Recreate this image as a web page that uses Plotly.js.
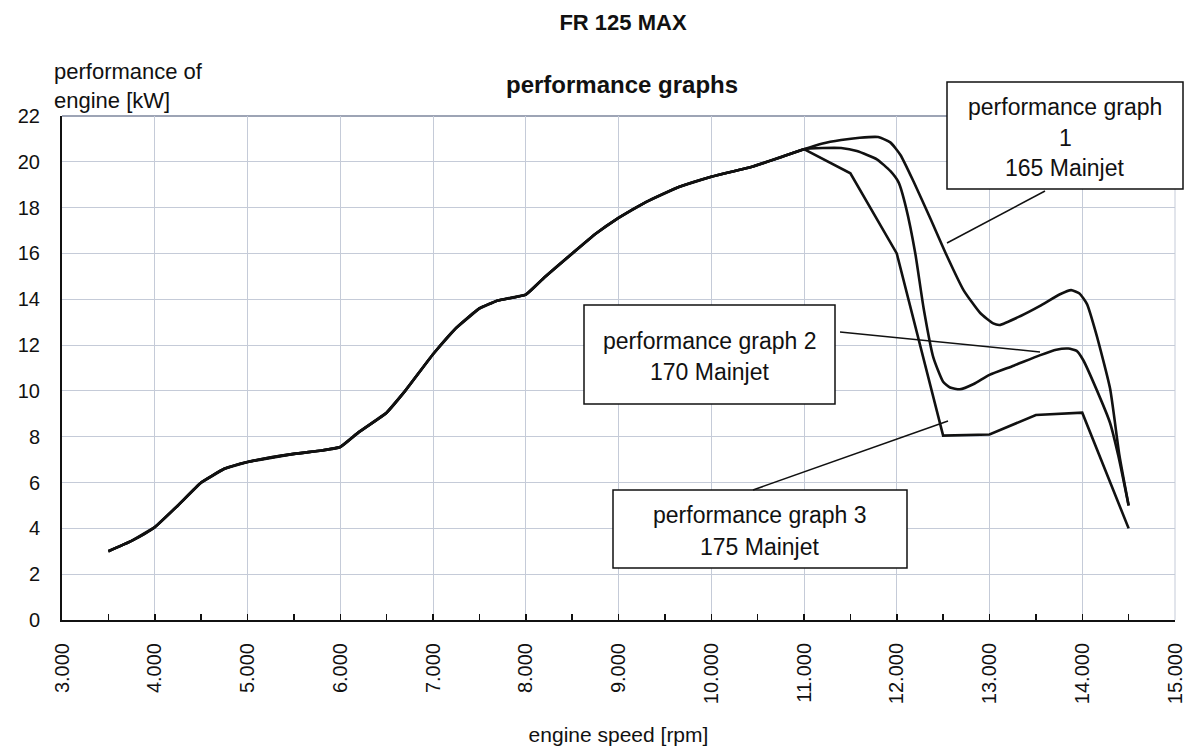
<!DOCTYPE html>
<html>
<head>
<meta charset="utf-8">
<script src="https://cdn.plot.ly/plotly-3.0.1.min.js"></script>
<style>html,body{margin:0;padding:0;background:#fff;}#chart{width:1185px;height:751px;}</style>
</head>
<body>
<div id="chart"></div>
<script>
// ---- data ----
// shared low/mid-speed part (all three jets identical)
var rpmCommon = [3500, 3750, 4000, 4250, 4500, 4750, 5000, 5500, 5800, 6000, 6200, 6500, 6700, 7000, 7250, 7500, 7700, 8000, 8200, 8500, 8750, 9000, 9300, 9650, 10000, 10450, 10750, 11000];
var kwCommon  = [3.0, 3.45, 4.05, 5.0, 6.0, 6.6, 6.9, 7.25, 7.4, 7.55, 8.2, 9.05, 10.0, 11.6, 12.75, 13.6, 13.95, 14.2, 14.95, 16.0, 16.85, 17.55, 18.25, 18.9, 19.35, 19.8, 20.2, 20.55];

// performance graph 1 – 165 Mainjet (tail after 11.000 rpm)
var rpmJet165 = [11200, 11400, 11600, 11800, 11930, 12040, 12180, 12360, 12540, 12720, 12900, 13040, 13110, 13330, 13540, 13760, 13880, 13970, 14050, 14150, 14300, 14400, 14500];
var kwJet165  = [20.8, 20.95, 21.05, 21.08, 20.85, 20.3, 19.15, 17.55, 15.9, 14.4, 13.4, 12.95, 12.88, 13.26, 13.7, 14.22, 14.4, 14.25, 13.8, 12.5, 10.1, 7.2, 5.0];

// performance graph 2 – 170 Mainjet
var rpmJet170 = [11200, 11400, 11570, 11790, 11930, 12020, 12100, 12200, 12290, 12395, 12500, 12575, 12680, 12830, 13000, 13260, 13540, 13720, 13850, 13940, 14010, 14150, 14300, 14390, 14500];
var kwJet170  = [20.6, 20.6, 20.47, 20.1, 19.6, 19.1, 18.0, 16.0, 13.6, 11.45, 10.4, 10.15, 10.07, 10.3, 10.7, 11.1, 11.55, 11.8, 11.85, 11.75, 11.35, 10.1, 8.6, 7.15, 5.0];

// performance graph 3 – 175 Mainjet
var rpmJet175 = [11500, 12000, 12500, 13000, 13500, 14000, 14500];
var kwJet175  = [19.5, 16.0, 8.05, 8.1, 8.95, 9.05, 4.0];

var xTickVals = [3000, 4000, 5000, 6000, 7000, 8000, 9000, 10000, 11000, 12000, 13000, 14000, 15000];
var xTickText = ['3.000', '4.000', '5.000', '6.000', '7.000', '8.000', '9.000', '10.000', '11.000', '12.000', '13.000', '14.000', '15.000'];

var boxLabels = [
  ['performance graph', '1', '165 Mainjet'],
  ['performance graph 2', '170 Mainjet'],
  ['performance graph 3', '175 Mainjet']
];

// ---- build ----
var FONT = 'Liberation Sans, Arial, Helvetica, sans-serif';
var INK = '#111111';
var GRID = '#c5cbd8';

function trace(xs, ys, shape) {
  return {
    x: rpmCommon.concat(xs), y: kwCommon.concat(ys),
    type: 'scatter', mode: 'lines',
    line: {color: INK, width: 2.6, shape: shape, smoothing: 0.5},
    hoverinfo: 'x+y', showlegend: false
  };
}
var data = [
  trace(rpmJet175, kwJet175, 'linear'),
  trace(rpmJet170, kwJet170, 'spline'),
  trace(rpmJet165, kwJet165, 'spline')
];

// helper: paper coordinates for the label boxes
var L = 62, W = 1113, B = 620, H = 504;
function px(x) { return (x - L) / W; }
function py(y) { return (B - y) / H; }

var shapes = [
  // right grid line at 15.000 and darker top frame line
  {type: 'line', xref: 'paper', yref: 'paper', x0: 1, x1: 1, y0: 0, y1: 1, line: {color: GRID, width: 1}, layer: 'below'},
  {type: 'line', xref: 'paper', yref: 'paper', x0: 0, x1: 1, y0: 1, y1: 1, line: {color: '#7d869c', width: 1.5}, layer: 'below'},
  // boxes
  {type: 'rect', xref: 'paper', yref: 'paper', x0: px(947), x1: px(1183), y0: py(189), y1: py(82), line: {color: INK, width: 1.5}, fillcolor: '#ffffff', layer: 'above'},
  {type: 'rect', xref: 'paper', yref: 'paper', x0: px(584), x1: px(835), y0: py(404), y1: py(305), line: {color: INK, width: 1.5}, fillcolor: '#ffffff', layer: 'above'},
  {type: 'rect', xref: 'paper', yref: 'paper', x0: px(613), x1: px(907), y0: py(568), y1: py(490), line: {color: INK, width: 1.5}, fillcolor: '#ffffff', layer: 'above'},
  // leader lines
  {type: 'line', xref: 'paper', yref: 'paper', x0: px(1045), y0: py(191), x1: px(947), y1: py(243), line: {color: INK, width: 1.5}, layer: 'above'},
  {type: 'line', xref: 'paper', yref: 'paper', x0: px(840), y0: py(332), x1: px(1040), y1: py(352), line: {color: INK, width: 1.5}, layer: 'above'},
  {type: 'line', xref: 'paper', yref: 'paper', x0: px(753), y0: py(490), x1: px(948), y1: py(421), line: {color: INK, width: 1.5}, layer: 'above'}
];

function label(text, x, y, size, extra) {
  var a = {text: text, xref: 'paper', yref: 'paper', x: px(x), y: py(y), xanchor: 'center', yanchor: 'middle',
           showarrow: false, font: {family: FONT, size: size, color: INK}};
  if (extra) for (var k in extra) a[k] = extra[k];
  return a;
}
var annotations = [
  label('<b>performance graphs</b>', 622, 84, 24),
  label('performance of<br>engine [kW]', 52, 86, 22, {xanchor: 'left', align: 'left'}),
  label(boxLabels[0][0], 1065, 107, 23),
  label(boxLabels[0][1], 1065, 138, 23),
  label(boxLabels[0][2], 1065, 168, 23),
  label(boxLabels[1][0], 710, 341, 23),
  label(boxLabels[1][1], 710, 372, 23),
  label(boxLabels[2][0], 760, 515, 23),
  label(boxLabels[2][1], 760, 547, 23)
];

var layout = {
  width: 1185, height: 751,
  margin: {l: 62, r: 10, t: 116, b: 131, pad: 0},
  paper_bgcolor: '#ffffff', plot_bgcolor: '#ffffff',
  font: {family: FONT, color: INK},
  title: {text: '<b>FR 125 MAX</b>', x: px(623), xref: 'paper', xanchor: 'center', y: 1 - 22 / 751, yref: 'container', yanchor: 'middle',
          font: {family: FONT, size: 22, color: INK}},
  showlegend: false,
  xaxis: {
    range: [3000, 15000], tickmode: 'array', tickvals: xTickVals, ticktext: xTickText,
    tickangle: -90, ticks: 'inside', ticklen: 6, tickwidth: 1.5, tickcolor: INK,
    minor: {tickmode: 'linear', tick0: 3500, dtick: 1000, ticks: 'inside', ticklen: 6, tickwidth: 1.5, tickcolor: INK, showgrid: false},
    ticklabelstandoff: 13, ticklabeloverflow: 'allow',
    tickfont: {family: FONT, size: 20, color: INK},
    showgrid: true, gridcolor: GRID, gridwidth: 1,
    showline: true, linecolor: INK, linewidth: 2, zeroline: false,
    title: {text: 'engine speed [rpm]', font: {family: FONT, size: 21, color: INK}, standoff: 24},
    fixedrange: true
  },
  yaxis: {
    range: [0, 22], tickmode: 'linear', tick0: 0, dtick: 2,
    ticks: '', ticklabelstandoff: 16,
    tickfont: {family: FONT, size: 20, color: INK},
    showgrid: true, gridcolor: GRID, gridwidth: 1,
    showline: true, linecolor: INK, linewidth: 2, zeroline: false,
    fixedrange: true
  },
  shapes: shapes,
  annotations: annotations
};

Plotly.newPlot('chart', data, layout, {displayModeBar: false, staticPlot: true});
</script>
</body>
</html>
